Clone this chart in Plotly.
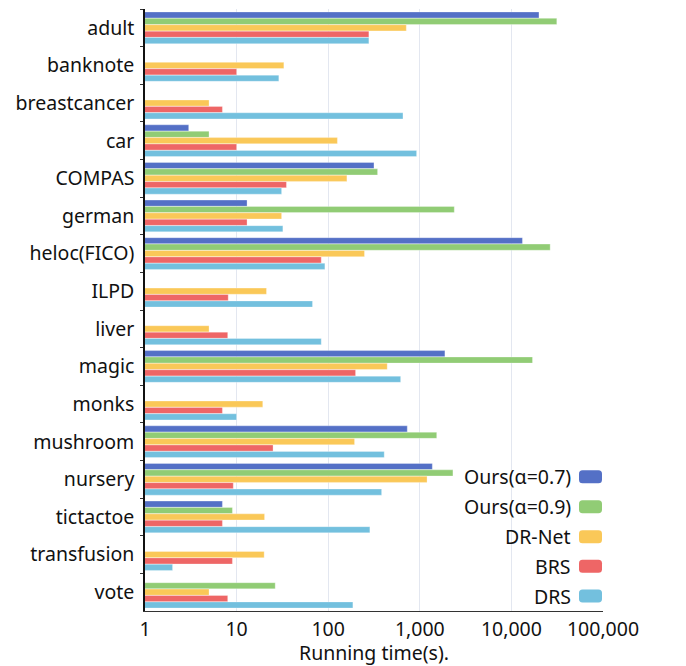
import plotly.graph_objects as go

categories = ["adult", "banknote", "breastcancer", "car", "COMPAS", "german",
              "heloc(FICO)", "ILPD", "liver", "magic", "monks", "mushroom",
              "nursery", "tictactoe", "transfusion", "vote"]

ours_07 = [20000, None, None, 3, 316, 13, 13200, None, None, 1880, None, 730, 1370, 7, None, None]
ours_09 = [31300, None, None, 5, 346, 2380, 26500, None, None, 17000, None, 1530, 2300, 9, None, 26.4]
dr_net  = [712, 32.8, 5, 126, 160, 31, 249, 21.2, 5, 441, 19.3, 194, 1200, 20.2, 20, 5]
brs     = [278, 10, 7, 10, 35, 13, 84, 8.1, 8, 199, 7, 25, 9.2, 7, 9, 8]
drs     = [278, 28.9, 655, 923, 31, 32, 92, 67.4, 84, 618, 10, 409, 383, 285, 2, 186]

series_names = ["Ours(α=0.7)", "Ours(α=0.9)", "DR-Net", "BRS", "DRS"]
series_values = [ours_07, ours_09, dr_net, brs, drs]
colors = ["#5470c6", "#91cc75", "#fac858", "#ee6666", "#73c0de"]

tick_vals = [1, 10, 100, 1000, 10000, 100000]
tick_text = ["1", "10", "100", "1,000", "10,000", "100,000"]

FONT = "Noto Sans, Open Sans, sans-serif"
FS = 19.5
OFF = 8  # page body margin
W, H = 686 - OFF, 666 - OFF
ML, MT = 145 - OFF, 9 - OFF
PW, PH = 458, 602
MR, MB = W - ML - PW, H - MT - PH

fig = go.Figure()
for name, vals, col in zip(series_names, series_values, colors):
    fig.add_trace(go.Bar(
        y=categories, x=vals, name=name, orientation="h",
        marker=dict(color=col, line=dict(color="rgba(255,255,255,0.6)", width=0.5)),
        showlegend=False,
    ))

# custom legend: text on the left, rounded swatch on the right (screen pixel coords)
def px2paper(x, y):
    return (x - OFF - ML) / PW, (MT + PH - (y - OFF)) / PH

def rounded_path(x0, y0, x1, y1, r):
    def p(x, y):
        X, Y = px2paper(x, y)
        return f"{X:.5f},{Y:.5f}"
    return (f"M {p(x0 + r, y0)} L {p(x1 - r, y0)} Q {p(x1, y0)} {p(x1, y0 + r)} "
            f"L {p(x1, y1 - r)} Q {p(x1, y1)} {p(x1 - r, y1)} "
            f"L {p(x0 + r, y1)} Q {p(x0, y1)} {p(x0, y1 - r)} "
            f"L {p(x0, y0 + r)} Q {p(x0, y0)} {p(x0 + r, y0)} Z")

row_y = [476.7, 506.7, 536.7, 566.3, 596.0]
for name, col, yc in zip(series_names, colors, row_y):
    fig.add_shape(type="path", xref="paper", yref="paper",
                  path=rounded_path(579, yc - 6.5, 602, yc + 6.5, 3.5),
                  fillcolor=col, line=dict(width=0))
    tx, ty = px2paper(573, yc)
    fig.add_annotation(x=tx, y=ty, xref="paper", yref="paper", text=name,
                       showarrow=False, xanchor="right", yanchor="middle",
                       font=dict(family=FONT, size=FS, color="#111111"))

fig.update_layout(
    width=W, height=H,
    margin=dict(l=ML, r=MR, t=MT, b=MB, pad=0, autoexpand=False),
    paper_bgcolor="white", plot_bgcolor="white",
    barmode="group", bargap=0.15, bargroupgap=0.04,
    font=dict(family=FONT, size=FS, color="#111111"),
    xaxis=dict(
        type="log", range=[0, 5], automargin=False,
        tickvals=tick_vals, ticktext=tick_text,
        showgrid=True, gridcolor="#e3e7f0", gridwidth=1,
        showline=True, linecolor="#333333", linewidth=1.2,
        ticks="", zeroline=False,
        title=dict(text="Running time(s).", standoff=2, font=dict(size=FS)),
        tickfont=dict(size=FS),
    ),
    yaxis=dict(
        autorange="reversed", type="category", automargin=False,
        showline=True, linecolor="#111111", linewidth=1.5,
        ticks="outside", ticklen=3, tickcolor="#333333", tickson="boundaries",
        showgrid=False, tickfont=dict(size=FS), ticklabelstandoff=5,
    ),
)

fig.write_html("out.html")
